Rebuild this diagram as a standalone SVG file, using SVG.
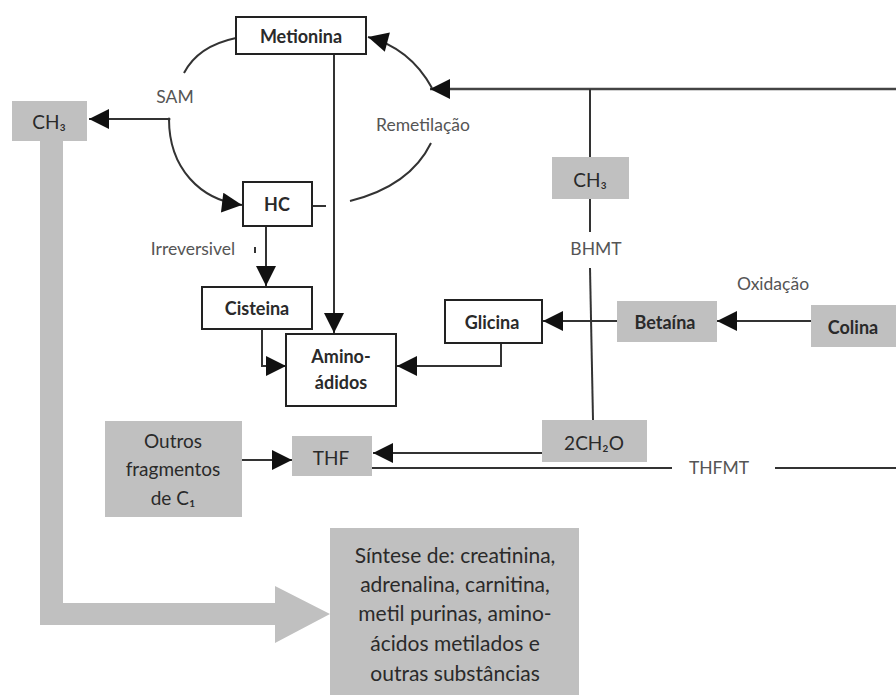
<svg xmlns="http://www.w3.org/2000/svg" width="896" height="695" viewBox="0 0 896 695">
<style>
.bx{fill:#fff;stroke:#222;stroke-width:2}
.gb{fill:#c0c0c0;stroke:none}
.t{font-family:Lato,"Open Sans","Liberation Sans",sans-serif;font-size:19px;fill:#2a2a2a;text-anchor:middle;dominant-baseline:central}
.b{font-weight:bold;font-size:18px}
.lb{font-family:Lato,"Open Sans","Liberation Sans",sans-serif;font-size:17.5px;fill:#555;text-anchor:middle;dominant-baseline:central}
.ln{fill:none;stroke:#333;stroke-width:2}
.big{font-size:21px}
</style>
<defs>
<marker id="ah" viewBox="0 0 10 10" refX="10" refY="5" markerWidth="21" markerHeight="20" markerUnits="userSpaceOnUse" orient="auto"><path d="M0,0 L10,5 L0,10 z" fill="#111"/></marker>
</defs>
<rect width="896" height="695" fill="#fff"/>

<g id="connectors">
<path d="M40,141 V625 H275 V643 L330,614 L275,586 V603 H63 V141 Z" fill="#c0c0c0"/>
<path class="ln" d="M236,38 Q198,46 184,73"/>
<path class="ln" d="M169,119 H89" marker-end="url(#ah)"/>
<path class="ln" d="M169,119 C169,168 200,200 242,205" marker-end="url(#ah)"/>
<circle cx="169" cy="119" r="1.5" fill="#333"/>
<path class="ln" d="M896,89 H430" marker-end="url(#ah)" style="stroke:#444;stroke-width:2.5"/>
<path class="ln" d="M432,88 Q410,48 368,37" marker-end="url(#ah)"/>
<path class="ln" d="M431,143 Q410,186 350,201"/>
<path class="ln" d="M312,206 H326"/>
<path class="ln" d="M334,55 V333" marker-end="url(#ah)"/>
<path class="ln" d="M266,226 V286" marker-end="url(#ah)"/>
<path class="ln" d="M255,247 V253"/>
<path class="ln" d="M262,329 V366 H286" marker-end="url(#ah)"/>
<path class="ln" d="M501,343 V366 H397" marker-end="url(#ah)"/>
<path class="ln" d="M617,321 H543" marker-end="url(#ah)"/>
<path class="ln" d="M811,321 H717" marker-end="url(#ah)"/>
<path class="ln" d="M590,89 V157"/>
<path class="ln" d="M590,199 V232"/>
<path class="ln" d="M590,268 L593,420"/>
<path class="ln" d="M242,460 H292" marker-end="url(#ah)"/>
<path class="ln" d="M542,453 H373" marker-end="url(#ah)"/>
<path class="ln" d="M372,468 H672"/>
<path class="ln" d="M775,468 H896"/>
</g>

<g id="n-metionina"><rect class="bx" x="236" y="17" width="130" height="37"/><text class="t b" x="301" y="36">Metionina</text></g>
<g id="n-ch3a"><rect class="gb" x="12" y="101" width="75" height="40"/><text class="t" x="49" y="121">CH₃</text></g>
<g id="n-hc"><rect class="bx" x="243" y="182" width="69" height="44"/><text class="t b" x="277" y="204">HC</text></g>
<g id="n-cisteina"><rect class="bx" x="202" y="287" width="110" height="42"/><text class="t b" x="257" y="308">Cisteina</text></g>
<g id="n-amino"><rect class="bx" x="286" y="334" width="110" height="72"/><text class="t b" x="341" y="356">Amino-</text><text class="t b" x="341" y="382">ádidos</text></g>
<g id="n-glicina"><rect class="bx" x="445" y="300" width="97" height="43"/><text class="t b" x="492" y="322">Glicina</text></g>
<g id="n-ch3b"><rect class="gb" x="552" y="157" width="77" height="42"/><text class="t" x="590" y="179">CH₃</text></g>
<g id="n-betaina"><rect class="gb" x="617" y="301" width="100" height="41"/><text class="t b" x="665" y="322">Betaína</text></g>
<g id="n-colina"><rect class="gb" x="811" y="305" width="85" height="42"/><text class="t b" x="853" y="327">Colina</text></g>
<g id="n-outros"><rect class="gb" x="105" y="421" width="137" height="96"/><text class="t" x="173" y="440">Outros</text><text class="t" x="173" y="468">fragmentos</text><text class="t" x="173" y="497">de C₁</text></g>
<g id="n-thf"><rect class="gb" x="292" y="436" width="80" height="40"/><text class="t" x="331" y="457">THF</text></g>
<g id="n-2ch2o"><rect class="gb" x="542" y="420" width="105" height="42"/><text class="t" x="594" y="442">2CH₂O</text></g>
<g id="n-sintese"><rect class="gb" x="330" y="528" width="249" height="167"/>
<text class="t big" x="455" y="554">Síntese de: creatinina,</text>
<text class="t big" x="455" y="583">adrenalina, carnitina,</text>
<text class="t big" x="455" y="612">metil purinas, amino-</text>
<text class="t big" x="455" y="642">ácidos metilados e</text>
<text class="t big" x="455" y="672">outras substâncias</text>
</g>
<g id="labels">
<text class="lb" x="175" y="96">SAM</text>
<text class="lb" x="423" y="124">Remetilação</text>
<text class="lb" x="193" y="248">Irreversivel</text>
<text class="lb" x="596" y="248">BHMT</text>
<text class="lb" x="773" y="283">Oxidação</text>
<text class="lb" x="719" y="467">THFMT</text>
</g>
</svg>
